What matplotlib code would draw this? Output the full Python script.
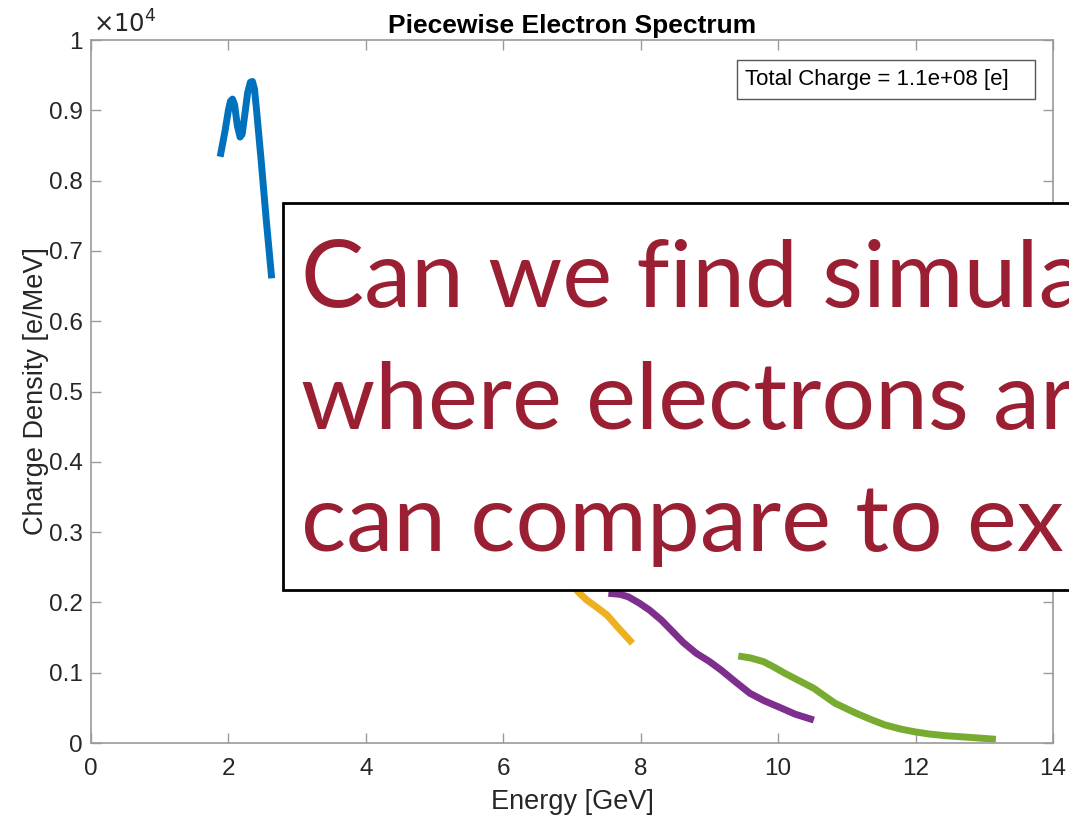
import matplotlib
matplotlib.use("Agg")
import matplotlib.pyplot as plt
from matplotlib.patches import Rectangle
import numpy as np

# spectrum pieces: energy [GeV], charge density [e/MeV]
e_blue = [1.88, 1.95, 2.00, 2.03, 2.06, 2.09, 2.13, 2.17, 2.20, 2.24, 2.28,
          2.32, 2.35, 2.38, 2.41, 2.48, 2.55, 2.63]
q_blue = [8340, 8700, 9000, 9130, 9160, 9080, 8780, 8620, 8660, 8950, 9250,
          9400, 9410, 9300, 9000, 8250, 7450, 6610]

e_yellow = [7.00, 7.09, 7.22, 7.35, 7.51, 7.66, 7.88]
q_yellow = [2260, 2150, 2030, 1940, 1820, 1655, 1418]

e_purple = [7.53, 7.70, 7.82, 7.98, 8.13, 8.30, 8.44, 8.62, 8.81, 9.00, 9.17,
            9.38, 9.59, 9.80, 10.00, 10.25, 10.52]
q_purple = [2130, 2115, 2080, 1990, 1890, 1750, 1610, 1430, 1276, 1160, 1038,
            870, 707, 600, 517, 410, 327]

e_green = [9.42, 9.60, 9.79, 9.95, 10.10, 10.30, 10.52, 10.83, 11.14, 11.35,
           11.56, 11.78, 11.98, 12.20, 12.44, 12.80, 13.17]
q_green = [1238, 1210, 1157, 1075, 991, 890, 778, 565, 422, 335, 256, 200,
           161, 128, 104, 80, 53]

total_charge = 1.1e8

callout = ["Can we find simula", "where electrons ar", "can compare to exp"]

pieces = [
    (e_blue, q_blue, "#0072BD"),
    (e_yellow, q_yellow, "#EDB120"),
    (e_purple, q_purple, "#7E2F8E"),
    (e_green, q_green, "#77AC30"),
]

plt.rcParams.update({
    "font.family": ["Liberation Sans", "DejaVu Sans"],
    "axes.edgecolor": "#9a9a9a",
    "xtick.color": "#9a9a9a",
    "ytick.color": "#9a9a9a",
    "xtick.labelcolor": "#262626",
    "ytick.labelcolor": "#262626",
})

fig = plt.figure(figsize=(10.69, 8.15), dpi=100)
ax = fig.add_axes([0.0851, 0.0883, 0.8999, 0.8626])

for e, q, c in pieces:
    ax.plot(e, q, color=c, linewidth=5, solid_capstyle="butt",
            solid_joinstyle="round")

ax.set_xlim(0, 14)
ax.set_ylim(0, 10000)
ax.set_xticks(np.arange(0, 15, 2))
yt = np.arange(0, 10001, 1000)
ax.set_yticks(yt)
ax.set_yticklabels(["0"] + [f"{v/1e4:.1f}" for v in yt[1:-1]] + ["1"])
ax.tick_params(direction="in", length=7, width=1, labelsize=17.5,
               top=True, right=True)
ax.tick_params(axis="x", pad=11)
ax.tick_params(axis="y", pad=6)
for s in ax.spines.values():
    s.set_linewidth(1.2)

ax.text(0.002, 1.004, r"$\times10^{4}$", transform=ax.transAxes,
        fontsize=17.5, color="#262626", ha="left", va="bottom")
ax.set_title("Piecewise Electron Spectrum", fontsize=19,
             fontweight="bold", pad=5)
ax.set_xlabel("Energy [GeV]", fontsize=19.5, color="#262626", labelpad=6)
ax.set_ylabel("Charge Density [e/MeV]", fontsize=19.5, color="#262626",
              labelpad=0)

# total charge annotation box
ax.add_patch(Rectangle((0.6715, 0.916), 0.3095, 0.0556, transform=ax.transAxes,
                       facecolor="white", edgecolor="#555555", linewidth=1))
ax.text(0.680, 0.944, f"Total Charge = {total_charge:.1e} [e]",
        transform=ax.transAxes, fontsize=16, color="black",
        ha="left", va="center")

# question callout on top of the plot
fig.patches.append(Rectangle((283 / 1069, 1 - 590 / 815), 0.8, 387 / 815,
                             transform=fig.transFigure, facecolor="white",
                             edgecolor="black", linewidth=2, zorder=10,
                             clip_on=False))
for i, line in enumerate(callout):
    fig.text(301 / 1069, 1 - (307 + 122 * i) / 815, line, fontsize=68,
             family="Lato", color="#9B1F33", ha="left", va="baseline",
             zorder=11)

fig.savefig("out.png", dpi=100)
